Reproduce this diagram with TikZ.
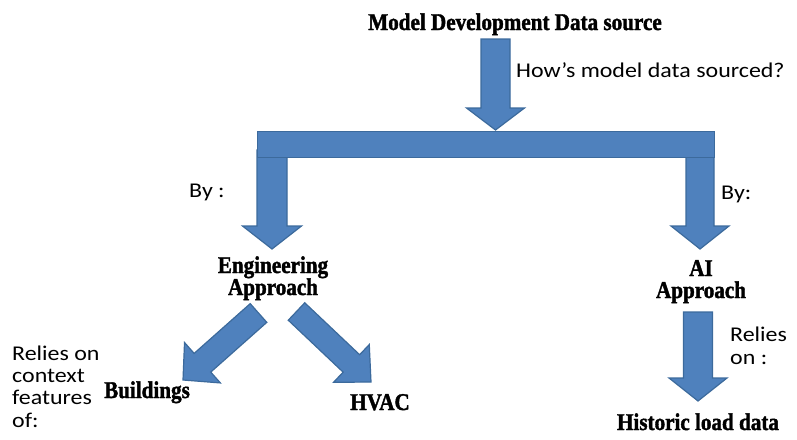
\documentclass[tikz,border=0pt]{standalone}
\usepackage{fontspec}
\usetikzlibrary{calc}
\newfontfamily\hdfont[FakeStretch=0.88,BoldFeatures={FakeBold=1.6}]{Liberation Serif}
\newfontfamily\bdfont[FakeStretch=1.14]{Carlito}
\definecolor{abfill}{HTML}{4F81BD}
\definecolor{abdraw}{HTML}{3C6A9C}
\newcommand{\blockarrow}[5]{%
  \coordinate (ba-c) at ($(#2)!#5!(#1)$);
  \draw[blockarrow] ($(#1)!#3!90:(#2)$) -- ($(ba-c)!#3!-90:(#1)$) -- ($(ba-c)!#4!-90:(#1)$) -- (#2)
    -- ($(ba-c)!#4!90:(#1)$) -- ($(ba-c)!#3!90:(#1)$) -- ($(#1)!#3!-90:(#2)$) -- cycle;
}
\begin{document}
\begin{tikzpicture}[x=1pt,y=-1pt,
  blockarrow/.style={fill=abfill,draw=abdraw,line width=1.2pt,line join=miter},
  head/.style={inner sep=0pt,font=\hdfont\bfseries\fontsize{24}{22}\selectfont,align=center},
  body/.style={inner sep=0pt,font=\bdfont\fontsize{21}{22.3}\selectfont,align=left}]
\useasboundingbox (0,0) rectangle (797,439);
% text nodes (base anchor = baseline of the last line)
\node[head,anchor=base] (title) at (515,30) {Model Development Data source};
\node[body,anchor=base west] (q) at (516,77) {How’s model data sourced?};
\node[body,anchor=base west] (by1) at (189,197) {By :};
\node[body,anchor=base west] (by2) at (721,199) {By:};
\node[head,anchor=base] (eng) at (273,295) {Engineering\\Approach};
\node[head,anchor=base] (ai) at (701,298) {AI\\Approach};
\node[body,anchor=base west] (rel1) at (12,427) {Relies on\\context\\features\\of:};
\node[body,anchor=base west] (rel2) at (730,364) {Relies\\on :};
\node[head,anchor=base] (bld) at (147,398) {Buildings};
\node[head,anchor=base] (hvac) at (380,410) {HVAC};
\node[head,anchor=base] (hist) at (698,430) {Historic load data};
% arrow end points
\coordinate (top-tail) at (495.5,39);
\coordinate (top-tip) at (495.5,130);
\coordinate (l-tail) at (272,150);
\coordinate (l-tip) at (272,249);
\coordinate (r-tail) at (700,150);
\coordinate (r-tip) at (700,249);
\coordinate (d1-tail) at (258.5,313);
\coordinate (d1-tip) at (183,380);
\coordinate (d2-tail) at (296.5,311.5);
\coordinate (d2-tip) at (371,382);
\coordinate (ai-tail) at (698,312);
\coordinate (ai-tip) at (698,401);
% block arrows
\blockarrow{l-tail}{l-tip}{15pt}{29.5pt}{23pt}
\blockarrow{r-tail}{r-tip}{14pt}{29pt}{23pt}
\node[blockarrow,draw,inner sep=0pt,minimum width=457pt,minimum height=26pt,anchor=north west] (bar) at (257,131) {};
\blockarrow{top-tail}{top-tip}{14.5pt}{29pt}{22pt}
\blockarrow{d1-tail}{d1-tip}{12.5pt}{27pt}{26pt}
\blockarrow{d2-tail}{d2-tip}{12pt}{26pt}{27pt}
\blockarrow{ai-tail}{ai-tip}{14.5pt}{29pt}{23pt}
\end{tikzpicture}
\end{document}
